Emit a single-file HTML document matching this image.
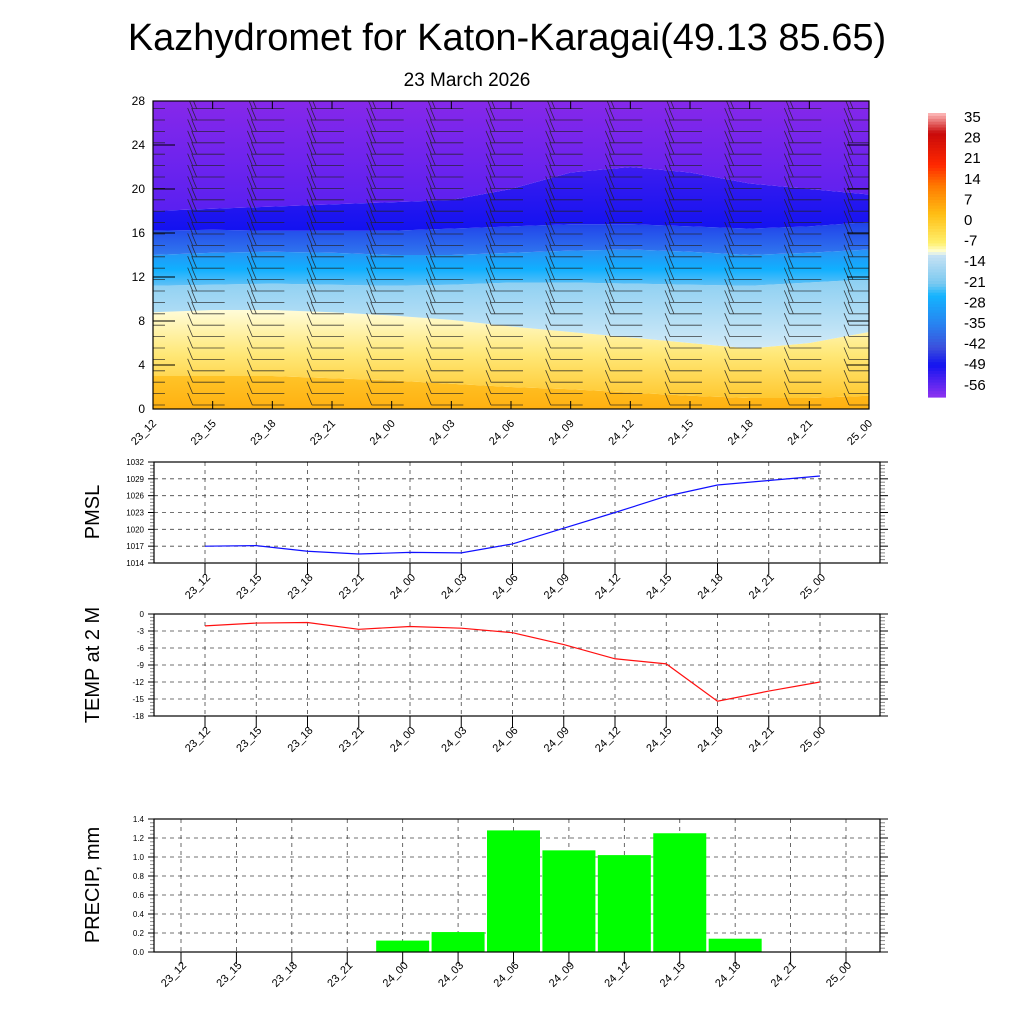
<!DOCTYPE html>
<html><head><meta charset="utf-8"><style>
body{margin:0;background:#fff;}
svg{display:block;font-family:"Liberation Sans",sans-serif;}
</style></head><body>
<svg id="root" width="1024" height="1024" viewBox="0 0 1024 1024">
<text x="507" y="50" font-size="38" text-anchor="middle">Kazhydromet for Katon-Karagai(49.13 85.65)</text>
<text x="467" y="86" font-size="19" text-anchor="middle">23 March 2026</text>
<defs><clipPath id="topClip"><rect x="153" y="101" width="716" height="308"/></clipPath></defs>
<g id="top"></g>
<g id="cbar"></g>
<g id="pmsl"></g>
<g id="temp"></g>
<g id="precip"></g>
<text transform="translate(99,512) rotate(-90)" font-size="20" text-anchor="middle">PMSL</text>
<text transform="translate(99,665) rotate(-90)" font-size="20" text-anchor="middle">TEMP at 2 M</text>
<text transform="translate(99,885) rotate(-90)" font-size="20" text-anchor="middle">PRECIP, mm</text>
</svg>
<script>
const categories=["23_12","23_15","23_18","23_21","24_00","24_03","24_06","24_09","24_12","24_15","24_18","24_21","25_00"];
const pmslValues=[1017.0,1017.1,1016.1,1015.6,1015.9,1015.8,1017.4,1020.2,1023.0,1025.9,1027.9,1028.7,1029.5];
const pmslTicks=[1014,1017,1020,1023,1026,1029,1032];
const tempValues=[-2.1,-1.6,-1.5,-2.7,-2.2,-2.5,-3.3,-5.4,-7.9,-8.8,-15.4,-13.6,-12.0];
const tempTicks=[-18,-15,-12,-9,-6,-3,0];
const precipValues=[0,0,0,0,0.12,0.21,1.28,1.07,1.02,1.25,0.14,0,0];
const precipTicks=[0,0.2,0.4,0.6,0.8,1.0,1.2,1.4];
const heightTicks=[0,4,8,12,16,20,24,28];
const cbarLabels=[35,28,21,14,7,0,-7,-14,-21,-28,-35,-42,-49,-56];
// boundary heights of temperature bands per time step
const bandOrange=[3,3,3,2.8,2.6,2.3,2,1.8,1.5,1.2,1,1,1.2];
const bandYellow=[8.8,9,9,8.8,8.5,8.1,7.5,7,6.5,6,5.5,6,7];
const bandLightBlue=[11.2,11.3,11.4,11.3,11.2,11.3,11.5,11.5,11.4,11.3,11.2,11.5,11.8];
const bandCyan=[14,14.2,14.3,14.2,14,14,14.2,14.4,14.5,14.3,14,14.2,14.5];
const bandBlue=[16.2,16.3,16.2,16.2,16.2,16.4,16.6,16.8,16.8,16.6,16.4,16.6,17];
const bandDeep=[18,18.2,18.4,18.6,18.8,19,20,21.5,22,21.5,20.5,20,19.5];
// wind barb staff angle per level group (degrees) - visual
const NS="http://www.w3.org/2000/svg";
function mk(tag,attrs,parent){const e=document.createElementNS(NS,tag);for(const k in attrs)e.setAttribute(k,attrs[k]);parent.appendChild(e);return e;}

// ---------- top cross-section ----------
(function(){
const g=document.getElementById('top');
const X0=153,X1=869,Y0=409,Y1=101;
const xs=i=>X0+(X1-X0)*i/(categories.length-1);
const ys=v=>Y0-(Y0-Y1)*v/28;
const defs=mk('defs',{},g);
function grad(id,stops){const lg=mk('linearGradient',{id:id,x1:0,y1:1,x2:0,y2:0},defs);stops.forEach(s=>mk('stop',{offset:s[0],'stop-color':s[1]},lg));}
grad('gO',[[0,'#ffb010'],[1,'#ffc428']]);
grad('gY',[[0,'#ffc830'],[0.5,'#ffe878'],[1,'#fffcd8']]);
grad('gL',[[0,'#d2eaf7'],[1,'#8ccff2']]);
grad('gC',[[0,'#60c0f6'],[0.45,'#10b0ff'],[1,'#2890f4']]);
grad('gB',[[0,'#3078ee'],[1,'#2040ea']]);
grad('gD',[[0,'#1212f0'],[1,'#3c1cf0']]);
grad('gP',[[0,'#5a20f0'],[1,'#8628ea']]);
const bands=[[null,bandOrange,'gO'],[bandOrange,bandYellow,'gY'],[bandYellow,bandLightBlue,'gL'],[bandLightBlue,bandCyan,'gC'],[bandCyan,bandBlue,'gB'],[bandBlue,bandDeep,'gD'],[bandDeep,null,'gP']];
bands.forEach((b,bi)=>{
  let pts=[];
  for(let i=0;i<categories.length;i++)pts.push(xs(i)+','+ys(b[1]?b[1][i]:28));
  for(let i=categories.length-1;i>=0;i--)pts.push(xs(i)+','+ys(b[0]?b[0][i]:0));
  const p=mk('polygon',{points:pts.join(' '),fill:'url(#'+b[2]+')'},g);
  
  
});
// wind barbs
const barbs=mk('g',{stroke:'#222','stroke-width':0.8,fill:'none','stroke-opacity':0.85,'clip-path':'url(#topClip)'},g);


for(let i=0;i<categories.length;i++){
  for(let y=405;y>103;y-=11.4){
    const x0=xs(i)-20;
    const h=(409-y)/11;
    const nb=h<8?1:2;
    let d='M'+x0+','+y+'L'+(xs(i)+12)+','+y;
    for(let k=0;k<nb;k++){const bx=x0+k*4;d+='M'+bx+','+y+'l-5,-12';}
    mk('path',{d:d},barbs);
  }
}
const frame=mk('rect',{x:X0,y:Y1,width:X1-X0,height:Y0-Y1,fill:'none',stroke:'#000','stroke-width':1.2},g);


heightTicks.forEach(v=>{
  mk('line',{x1:X0,x2:X0+22,y1:ys(v),y2:ys(v),stroke:'#000'},g);
  mk('line',{x1:X1,x2:X1-22,y1:ys(v),y2:ys(v),stroke:'#000'},g);
  const t=mk('text',{x:X0-8,y:ys(v)+4,'font-size':12,'text-anchor':'end'},g);t.textContent=v;
  
  
});
categories.forEach((c,i)=>{
  mk('line',{x1:xs(i),x2:xs(i),y1:Y0,y2:Y0-8,stroke:'#000'},g);
  mk('line',{x1:xs(i),x2:xs(i),y1:Y1,y2:Y1+8,stroke:'#000'},g);
  const t=mk('text',{transform:'translate('+(xs(i)+4)+',424) rotate(-45)','font-size':11,'text-anchor':'end'},g);t.textContent=c;
  
  
});
})();

// ---------- colorbar ----------
(function(){
const g=document.getElementById('cbar');
const X=928,W=18,T=113,B=397;
const stops=[[35,[255,190,190]],[28,[200,10,10]],[17,[255,40,0]],[10,[255,120,0]],[0,[255,190,20]],[-10,[255,240,110]],[-13,[255,255,220]],[-14,[200,226,244]],[-24,[120,200,240]],[-28,[20,180,255]],[-38,[40,130,240]],[-46,[60,80,220]],[-52,[20,20,240]],[-63,[140,50,240]]];
function col(v){for(let k=0;k<stops.length-1;k++){const a=stops[k],b=stops[k+1];if(v<=a[0]&&v>=b[0]){const t=(a[0]-v)/(a[0]-b[0]);return 'rgb('+a[1].map((c,j)=>Math.round(c+(b[1][j]-c)*t)).join(',')+')';}}return '#000';}
const N=98;
for(let k=0;k<N;k++){const v=35-(98*(k+0.5)/N);mk('rect',{x:X,y:T+(B-T)*k/N,width:W,height:(B-T)/N+0.6,fill:col(v)},g);}
cbarLabels.forEach((v,k)=>{const t=mk('text',{x:964,y:122+k*20.6,'font-size':15},g);t.textContent=v;

});


})();

// ---------- line/bar panels ----------
function panel(id,X0,X1,Y0,Y1,ticks,labFmt,xL,xR,lblY){
  const g=document.getElementById(id);
  const lo=ticks[0],hi=ticks[ticks.length-1];
  const ys=v=>Y0-(Y0-Y1)*(v-lo)/(hi-lo);
  const xs=i=>xL+(xR-xL)*i/(categories.length-1);
  categories.forEach((c,i)=>{
    mk('line',{x1:xs(i),x2:xs(i),y1:Y1,y2:Y0,stroke:'#444','stroke-dasharray':'4,4','stroke-width':0.8},g);
    mk('line',{x1:xs(i),x2:xs(i),y1:Y0,y2:Y0+12,stroke:'#000'},g);
    const t=mk('text',{transform:'translate('+(xs(i)+6)+','+lblY+') rotate(-45)','font-size':11,'text-anchor':'end'},g);t.textContent=c;
    
    
  });
  ticks.forEach((v,k)=>{
    if(k>0&&k<ticks.length-1)mk('line',{x1:X0,x2:X1,y1:ys(v),y2:ys(v),stroke:'#444','stroke-dasharray':'4,4','stroke-width':0.8},g);
    mk('line',{x1:X0-6,x2:X0,y1:ys(v),y2:ys(v),stroke:'#000'},g);
    mk('line',{x1:X1,x2:X1+8,y1:ys(v),y2:ys(v),stroke:'#000'},g);
    if(k<ticks.length-1)for(let m=1;m<5;m++){const yy=ys(v)+(ys(ticks[k+1])-ys(v))*m/5;
      mk('line',{x1:X0-4,x2:X0,y1:yy,y2:yy,stroke:'#888'},g);mk('line',{x1:X1,x2:X1+5,y1:yy,y2:yy,stroke:'#888'},g);}
    const t=mk('text',{x:X0-10,y:ys(v)+3,'font-size':8,'text-anchor':'end'},g);t.textContent=labFmt(v);
    
    
  });
  return {g,xs,ys};
}
(function(){
const p=panel('pmsl',154,880,563,462,pmslTicks,v=>v,205,820,578);
const line=mk('polyline',{points:pmslValues.map((v,i)=>p.xs(i)+','+p.ys(v)).join(' '),fill:'none',stroke:'#1010ff','stroke-width':1.2},p.g);


const f=mk('rect',{x:154,y:462,width:726,height:101,fill:'none',stroke:'#000','stroke-width':1.2},p.g);


})();
(function(){
const p=panel('temp',154,880,716,614,tempTicks,v=>v,205,820,731);
const line=mk('polyline',{points:tempValues.map((v,i)=>p.xs(i)+','+p.ys(v)).join(' '),fill:'none',stroke:'#ff1010','stroke-width':1.2},p.g);


const f=mk('rect',{x:154,y:614,width:726,height:102,fill:'none',stroke:'#000','stroke-width':1.2},p.g);


})();
(function(){
const p=panel('precip',154,880,952,819,precipTicks,v=>v.toFixed(1),181,846,966);
precipValues.forEach((v,i)=>{if(v<=0)return;
  const r=mk('rect',{x:p.xs(i)-26.5,y:p.ys(v),width:53,height:p.ys(0)-p.ys(v),fill:'#00ff00'},p.g);
  
  
});
const f=mk('rect',{x:154,y:819,width:726,height:133,fill:'none',stroke:'#000','stroke-width':1.2},p.g);


})();
</script>
</body></html>
